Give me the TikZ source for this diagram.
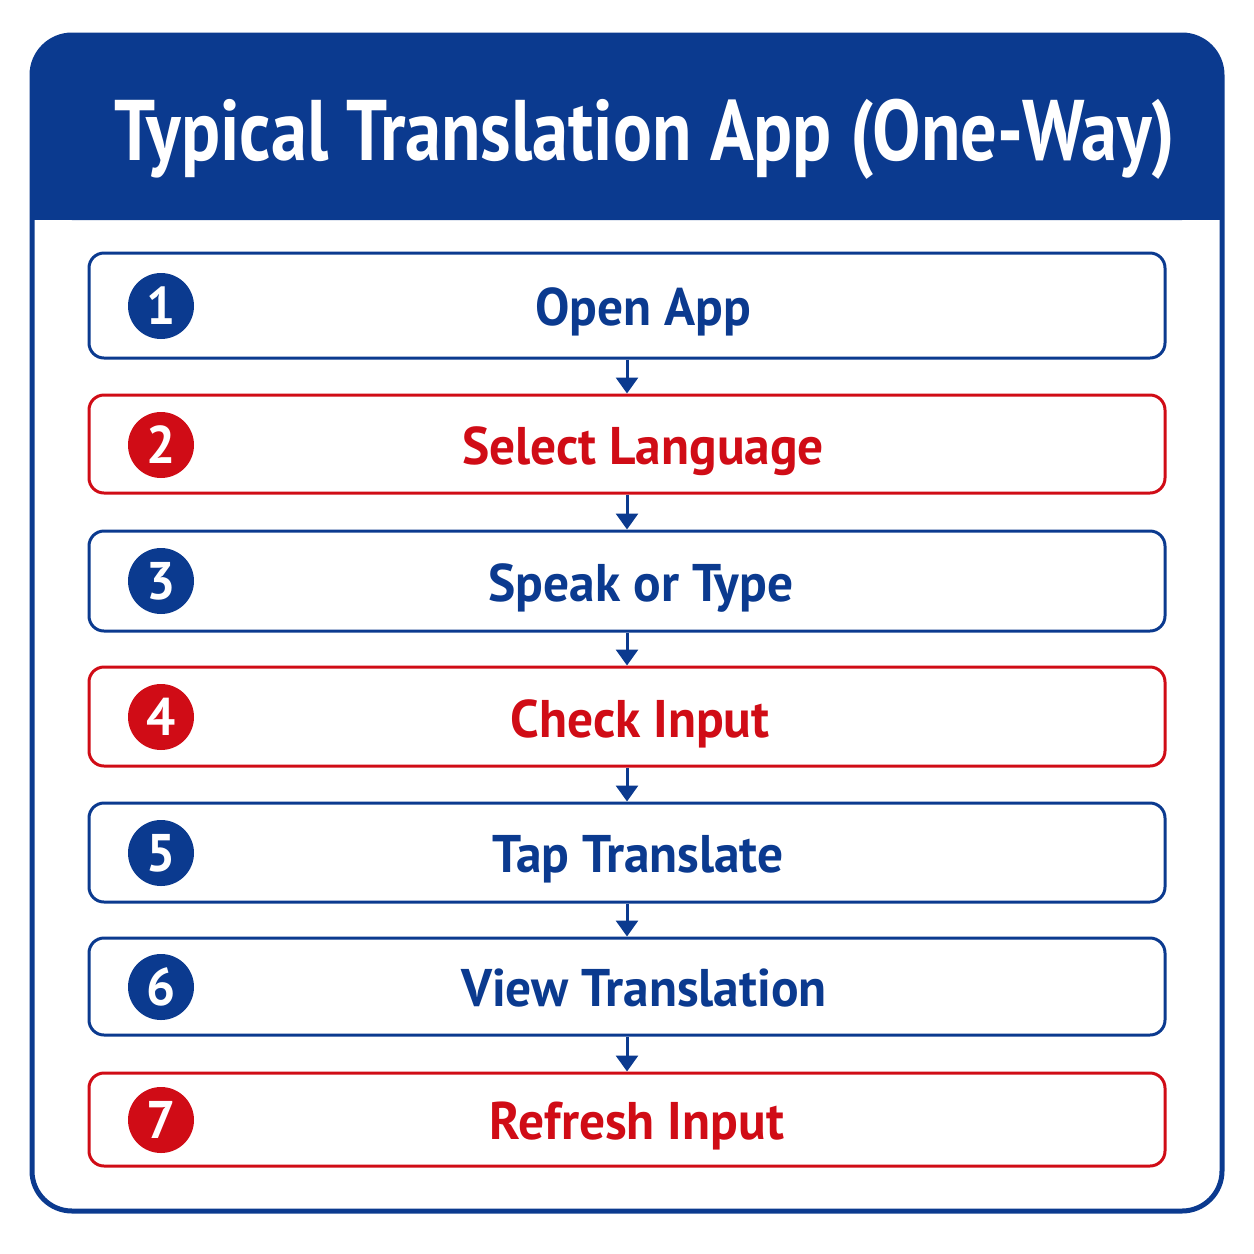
\documentclass[tikz,border=0pt]{standalone}
\usepackage{fontspec}
\setmainfont{PT Sans}[FakeStretch=0.97]
\newfontfamily\titlefont{PT Sans}[FakeStretch=0.842]
\usetikzlibrary{arrows.meta,positioning}
\definecolor{appblue}{RGB}{11,58,143}
\definecolor{appred}{RGB}{208,12,22}
\tikzset{
	stepbox/.style={draw=#1, line width=3pt, rounded corners=15pt, minimum width=1076pt, inner sep=0pt},
	steplabel/.style={text=#1, font=\bfseries\fontsize{53}{60}\selectfont, text height=37pt, text depth=0pt, inner sep=0pt},
	stepnum/.style={circle, fill=#1, text=white, minimum size=66pt, inner sep=0pt, font=\bfseries\fontsize{53}{60}\selectfont},
	steparrow/.style={draw=appblue, line width=3pt, -{Triangle[width=22pt,length=16pt]}}
}

\begin{document}
\begin{tikzpicture}[x=1pt, y=-1pt]
			\useasboundingbox (0,0) rectangle (1254,1254);
			% header band and frame
			\fill[appblue, rounded corners=40pt] (32,35) rectangle (1222,220);
			\fill[appblue] (32,150) rectangle (1222,220);
			\draw[appblue, line width=5pt, rounded corners=40pt] (32,35) rectangle (1222,1211);
			\node[text=white, font=\titlefont\bfseries\fontsize{86}{90}\selectfont, text height=60pt, text depth=0pt, inner sep=0pt] (title) at (645,130) {Typical Translation App (One-Way)};
			% steps
			\node[stepbox=appblue, minimum height=105pt] (box1) at (627,305.5) {};
			\node[stepbox=appred, minimum height=98pt] (box2) at (627,444) {};
			\node[stepbox=appblue, minimum height=100pt] (box3) at (627,581) {};
			\node[stepbox=appred, minimum height=99pt] (box4) at (627,716.5) {};
			\node[stepbox=appblue, minimum height=99pt] (box5) at (627,852.5) {};
			\node[stepbox=appblue, minimum height=97pt] (box6) at (627,986.5) {};
			\node[stepbox=appred, minimum height=93pt] (box7) at (627,1119.5) {};
			\node[stepnum=appblue] (num1) at (161,306) {1};
			\node[stepnum=appred] (num2) at (161,445) {2};
			\node[stepnum=appblue] (num3) at (161,581) {3};
			\node[stepnum=appred] (num4) at (161,717) {4};
			\node[stepnum=appblue] (num5) at (161,853) {5};
			\node[stepnum=appblue] (num6) at (161,987) {6};
			\node[stepnum=appred] (num7) at (161,1120) {7};
			\node[steplabel=appblue] (lab1) at (643,307) {Open App};
			\node[steplabel=appred] (lab2) at (643,446) {Select Language};
			\node[steplabel=appblue] (lab3) at (641,583) {Speak or Type};
			\node[steplabel=appred] (lab4) at (640,719) {Check Input};
			\node[steplabel=appblue] (lab5) at (638,854) {Tap Translate};
			\node[steplabel=appblue] (lab6) at (644,988) {View Translation};
			\node[steplabel=appred] (lab7) at (637,1121) {Refresh Input};
			% arrows
			\draw[steparrow] (box1.south) -- (box2.north);
			\draw[steparrow] (box2.south) -- (box3.north);
			\draw[steparrow] (box3.south) -- (box4.north);
			\draw[steparrow] (box4.south) -- (box5.north);
			\draw[steparrow] (box5.south) -- (box6.north);
			\draw[steparrow] (box6.south) -- (box7.north);
		\end{tikzpicture}
\end{document}
